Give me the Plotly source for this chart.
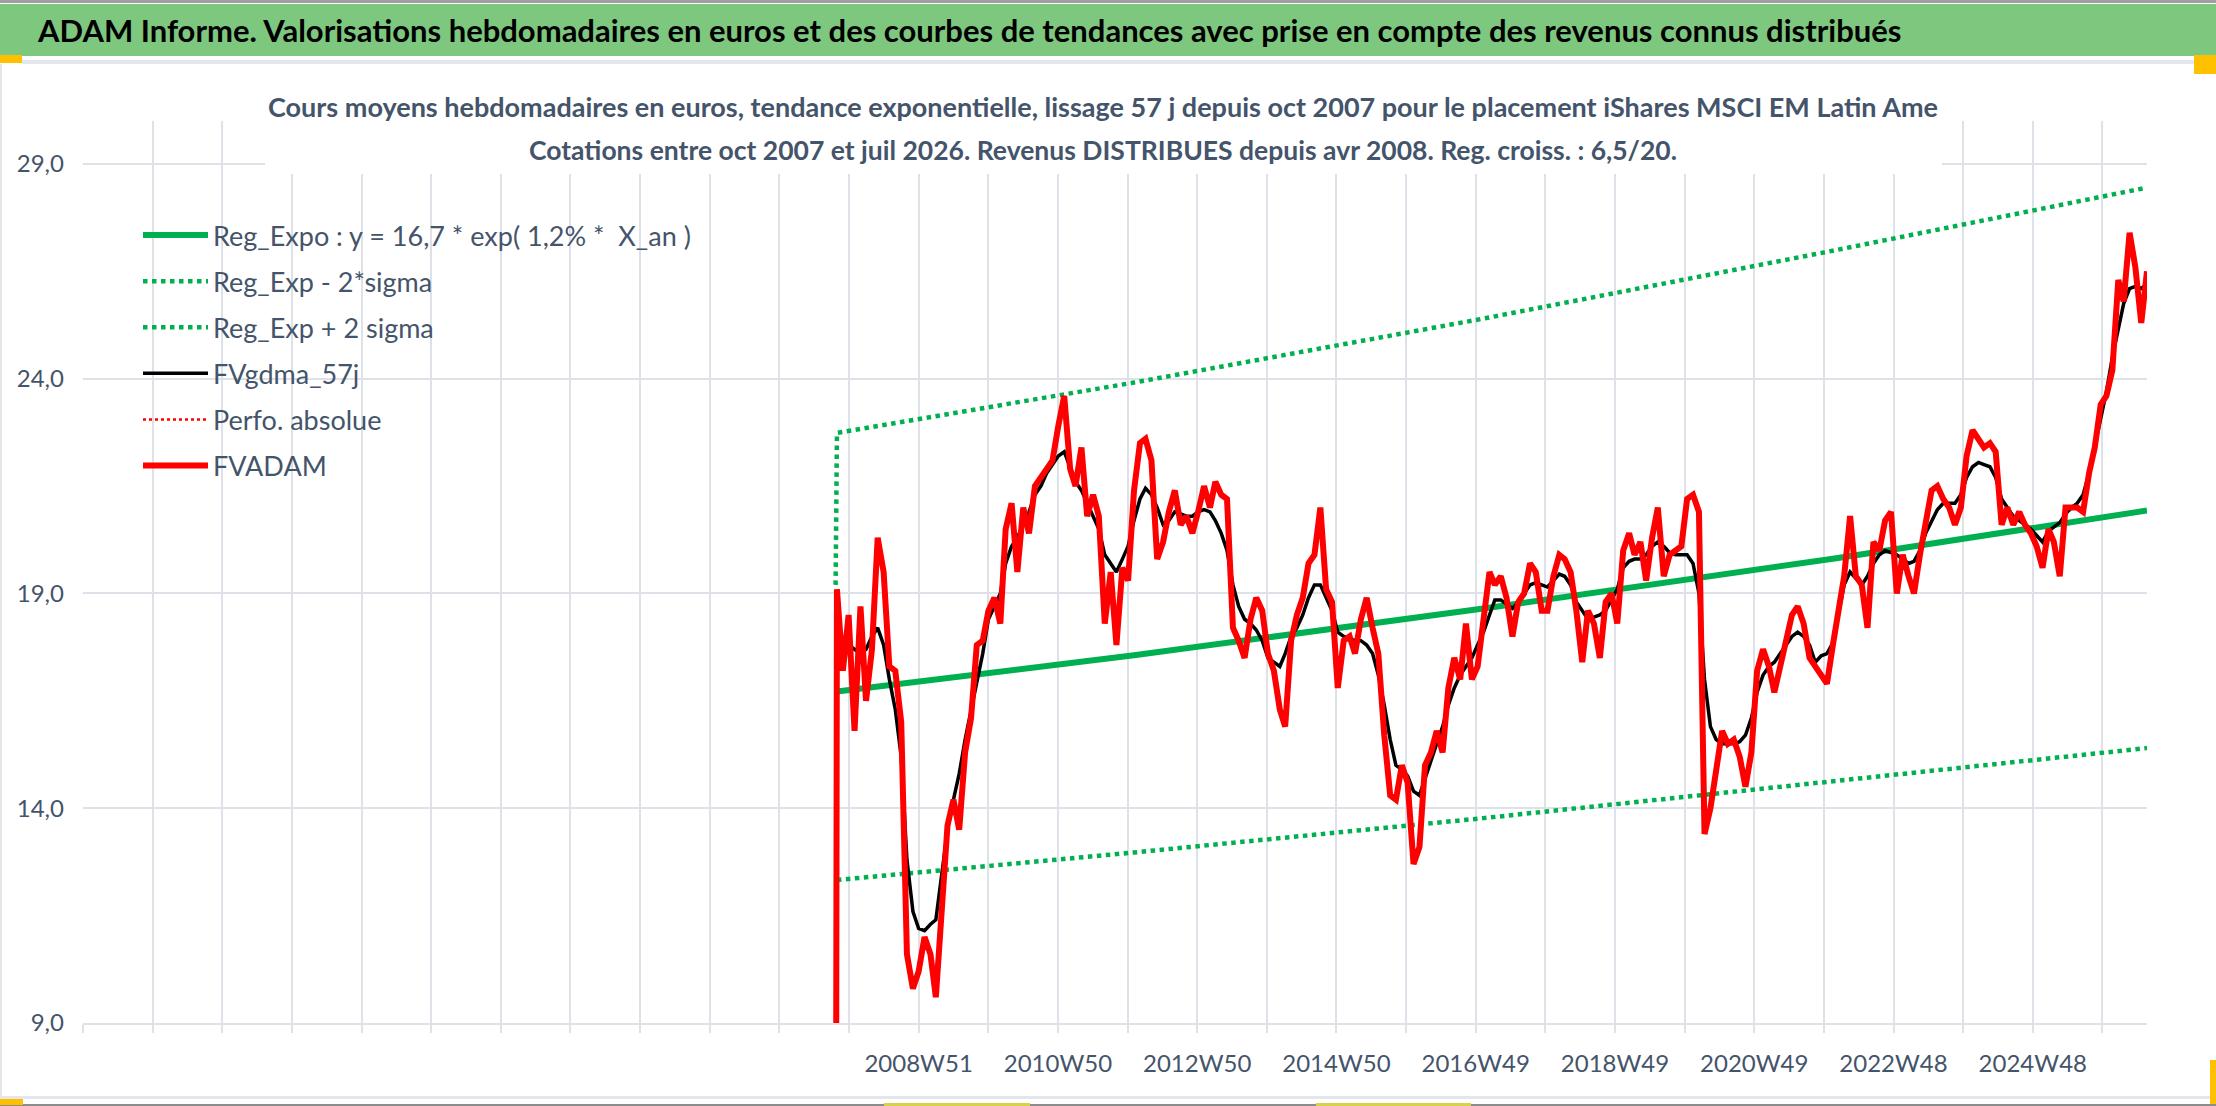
import pandas as pd
import plotly.graph_objects as go

# ---------- valeurs ----------
# un point par mois (milieu de mois), d'oct 2007 a juil 2026
mois = pd.date_range("2007-10-01", "2026-07-01", freq="MS") + pd.Timedelta(days=14)
# premiere cotation : le trait rouge part de l'axe
date_debut = pd.Timestamp("2007-10-08")
fvadam_debut = 0.0

fvadam = [
    19.1, 17.2, 18.5,  # 2007
    15.8, 18.7, 16.5, 17.7, 20.3, 19.5, 17.3, 17.2, 16.0, 10.6, 9.8, 10.2,  # 2008
    11.0, 10.6, 9.6, 11.8, 13.6, 14.2, 13.5, 15.3, 16.1, 17.8, 17.9, 18.6,  # 2009
    18.9, 18.3, 20.5, 21.1, 19.5, 21.0, 20.4, 21.5, 21.7, 21.9, 22.1, 22.9,  # 2010
    23.6, 21.9, 21.5, 22.4, 20.8, 21.3, 20.8, 18.3, 19.5, 17.8, 19.6, 19.3,  # 2011
    21.4, 22.5, 22.6, 22.1, 19.8, 20.2, 20.9, 21.4, 20.6, 20.8, 20.4, 20.9,  # 2012
    21.5, 21.0, 21.6, 21.3, 21.2, 18.2, 17.9, 17.5, 18.4, 18.9, 18.6, 17.6,  # 2013
    17.2, 16.3, 15.9, 17.9, 18.5, 18.9, 19.7, 19.9, 21.0, 19.1, 18.8, 16.8,  # 2014
    17.9, 18.0, 17.6, 18.4, 18.9, 18.2, 17.6, 15.7, 14.3, 14.2, 15.0, 14.6,  # 2015
    12.7, 13.1, 15.0, 15.3, 15.8, 15.3, 16.8, 17.5, 17.0, 18.3, 17.0, 17.3,  # 2016
    18.3, 19.5, 19.2, 19.4, 18.9, 18.0, 18.8, 19.0, 19.7, 19.5, 18.6, 18.6,  # 2017
    19.4, 19.9, 19.8, 19.5, 18.6, 17.4, 18.6, 18.3, 17.5, 18.8, 19.0, 18.3,  # 2018
    20.0, 20.4, 19.9, 20.2, 19.3, 20.3, 21.0, 19.4, 19.9, 20.0, 20.1, 21.2,  # 2019
    21.3, 20.9, 13.4, 14.0, 14.8, 15.8, 15.5, 15.6, 15.2, 14.5, 15.3, 17.2,  # 2020
    17.7, 17.3, 16.7, 17.3, 17.8, 18.5, 18.7, 18.3, 17.5, 17.3, 17.1, 16.9,  # 2021
    17.8, 18.7, 19.4, 20.8, 19.4, 19.2, 18.2, 20.2, 20.0, 20.7, 20.9, 19.0,  # 2022
    19.9, 19.4, 19.0, 19.9, 20.6, 21.4, 21.5, 21.2, 21.0, 20.6, 21.0, 22.2,  # 2023
    22.8, 22.6, 22.4, 22.5, 22.3, 20.6, 21.0, 20.6, 20.9, 20.6, 20.4, 20.1,  # 2024
    19.6, 20.5, 20.2, 19.4, 21.0, 21.0, 21.0, 20.9, 21.8, 22.4, 23.4, 23.6,  # 2025
    24.2, 26.3, 25.8, 27.4, 26.6, 25.3, 26.5,  # 2026
]

fvgdma_57j = [
    18.1, 17.9, 17.8,  # 2007
    17.7, 17.6, 17.7, 18.0, 18.2, 17.8, 17.0, 16.3, 15.2, 12.8, 11.6, 11.2,  # 2008
    11.15, 11.3, 11.4, 12.4, 13.5, 14.2, 14.8, 15.6, 16.3, 17.0, 17.6, 18.4,  # 2009
    18.7, 19.0, 19.7, 20.1, 20.3, 20.6, 20.9, 21.3, 21.5, 21.8, 22.0, 22.2,  # 2010
    22.3, 21.9, 21.6, 21.4, 21.1, 20.8, 20.5, 19.9, 19.7, 19.5, 19.8, 20.1,  # 2011
    20.7, 21.2, 21.45, 21.3, 21.0, 20.6, 20.7, 20.9, 20.85, 20.8, 20.8, 20.9,  # 2012
    20.95, 20.9, 20.7, 20.4, 20.0, 19.2, 18.7, 18.4, 18.3, 18.15, 17.9, 17.5,  # 2013
    17.4, 17.3, 17.6, 18.0, 18.2, 18.5, 18.9, 19.2, 19.2, 18.9, 18.6, 18.1,  # 2014
    18.0, 17.95, 17.9, 17.9, 17.8, 17.6, 17.1, 16.4, 15.6, 15.0, 14.9, 14.75,  # 2015
    14.4, 14.3, 14.7, 15.1, 15.5, 15.9, 16.4, 16.8, 17.1, 17.3, 17.5, 17.8,  # 2016
    18.1, 18.5, 18.85, 18.85, 18.75, 18.65, 18.8, 19.0, 19.2, 19.25, 19.2, 19.15,  # 2017
    19.3, 19.45, 19.4, 19.2, 18.8, 18.6, 18.4, 18.45, 18.5, 18.6, 18.85, 19.1,  # 2018
    19.6, 19.75, 19.8, 19.8, 19.9, 20.1, 20.2, 20.1, 19.95, 19.9, 19.9, 19.9,  # 2019
    19.7, 19.0, 17.0, 15.9, 15.6, 15.5, 15.5, 15.5, 15.55, 15.7, 16.1, 16.7,  # 2020
    17.1, 17.3, 17.4, 17.6, 17.8, 18.0, 18.1, 18.0, 17.8, 17.4, 17.55, 17.6,  # 2021
    17.85, 18.6, 19.2, 19.5, 19.35, 19.2, 19.4, 19.7, 19.9, 20.0, 19.95, 19.9,  # 2022
    19.8, 19.7, 19.75, 20.0, 20.4, 20.7, 20.95, 21.1, 21.1, 21.1, 21.3, 21.7,  # 2023
    21.95, 22.05, 22.0, 21.95, 21.7, 21.2, 21.0, 20.8, 20.7, 20.6, 20.5, 20.35,  # 2024
    20.2, 20.45, 20.55, 20.65, 20.85, 21.0, 21.1, 21.3, 21.8, 22.4, 23.1, 23.7,  # 2025
    24.5, 25.2, 25.75, 26.1, 26.15, 26.1, 26.2,  # 2026
]

# courbes de regression exponentielle et bandes +/- 2 sigma
dates_reg = pd.to_datetime(["2007-10-15", "2012-01-15", "2017-01-15", "2022-01-15", "2026-07-15"])
reg_expo = [16.72, 17.56, 18.65, 19.81, 20.93]
reg_moins_2s = [12.33, 12.97, 13.77, 14.63, 15.40]
reg_plus_2s = [22.74, 23.91, 25.40, 26.98, 28.45]
reg_plus_2s_debut = 19.2

# axe x : une ligne toutes les 52 semaines, etiquette une fois sur deux
semaine_ref = pd.Timestamp("2008-12-15")  # 2008W51
etiquettes_x = ["2008W51", "2010W50", "2012W50", "2014W50", "2016W49",
                "2018W49", "2020W49", "2022W48", "2024W48"]

grille = [semaine_ref + pd.Timedelta(weeks=52 * k) for k in range(-12, 18)]
texte_grille = []
for k in range(-12, 18):
    if k >= 0 and k % 2 == 0 and k // 2 < len(etiquettes_x):
        texte_grille.append(etiquettes_x[k // 2])
    else:
        texte_grille.append("")

# ---------- mise en page (pixels) ----------
W, H = 2216, 1106
L, R, T, B = 83, 69, 121, 83
PW, PH = W - L - R, H - T - B


def px_x(x):
    return (x - L) / PW


def px_y(y):
    return (H - B - y) / PH


VERT = "#00B050"
ROUGE = "#FF0000"
GRIS = "#DEE2E8"
ARDOISE = "#44546A"
POLICE = "Lato, sans-serif"

fig = go.Figure()

fig.add_trace(go.Scatter(x=dates_reg, y=reg_expo, mode="lines",
                         name="Reg_Expo : y = 16,7 * exp( 1,2% *  X_an )",
                         line=dict(color=VERT, width=6), legendgroup="g1"))
fig.add_trace(go.Scatter(x=dates_reg, y=reg_moins_2s, mode="lines",
                         name="Reg_Exp - 2*sigma",
                         line=dict(color=VERT, width=4.5, dash="dot"), legendgroup="g2"))
fig.add_trace(go.Scatter(x=[date_debut] + list(dates_reg), y=[reg_plus_2s_debut] + reg_plus_2s,
                         mode="lines", name="Reg_Exp + 2 sigma",
                         line=dict(color=VERT, width=4.5, dash="dot"), legendgroup="g3"))
fig.add_trace(go.Scatter(x=mois, y=fvgdma_57j, mode="lines", name="FVgdma_57j",
                         line=dict(color="black", width=3.5), legendgroup="g4"))
fig.add_trace(go.Scatter(x=[None], y=[None], mode="lines", name="Perfo. absolue",
                         line=dict(color=ROUGE, width=2.5, dash="dot"), legendgroup="g5"))
fig.add_trace(go.Scatter(x=[date_debut] + list(mois), y=[fvadam_debut] + fvadam,
                         mode="lines", name="FVADAM",
                         line=dict(color=ROUGE, width=6), legendgroup="g6"))

# bandeau du haut, filets et petits reperes
shapes = [
    dict(type="rect", x0=px_x(0), x1=px_x(W), y0=px_y(56), y1=px_y(4),
         fillcolor="#7DC87E", line_width=0),
    dict(type="rect", x0=px_x(0), x1=px_x(W), y0=px_y(3), y1=px_y(0),
         fillcolor="#A0A0A0", line_width=0),
    dict(type="rect", x0=px_x(22), x1=px_x(2195), y0=px_y(64), y1=px_y(60),
         fillcolor="#E3E6EA", line_width=0),
    dict(type="rect", x0=px_x(0), x1=px_x(2), y0=px_y(1097), y1=px_y(64),
         fillcolor="#E3E6EA", line_width=0),
    dict(type="rect", x0=px_x(0), x1=px_x(22), y0=px_y(63), y1=px_y(55),
         fillcolor="#FFC000", line_width=0),
    dict(type="rect", x0=px_x(2194), x1=px_x(W), y0=px_y(74), y1=px_y(55),
         fillcolor="#FFC000", line_width=0),
    dict(type="rect", x0=px_x(0), x1=px_x(W), y0=px_y(1099), y1=px_y(1096),
         fillcolor="#E3E6EA", line_width=0),
    dict(type="rect", x0=px_x(0), x1=px_x(W), y0=px_y(H), y1=px_y(1104),
         fillcolor="#8C8C8C", line_width=0),
    dict(type="rect", x0=px_x(0), x1=px_x(23), y0=px_y(1105), y1=px_y(1099),
         fillcolor="#FFC000", line_width=0),
    dict(type="rect", x0=px_x(2210), x1=px_x(W), y0=px_y(1104), y1=px_y(1060),
         fillcolor="#FFC000", line_width=0),
    dict(type="rect", x0=px_x(884), x1=px_x(1030), y0=px_y(H), y1=px_y(1103),
         fillcolor="#D8D24A", line_width=0),
    dict(type="rect", x0=px_x(1316), x1=px_x(1471), y0=px_y(H), y1=px_y(1103),
         fillcolor="#D8D24A", line_width=0),
    # fond blanc du sous-titre
    dict(type="rect", x0=px_x(265), x1=px_x(1942), y0=px_y(174), y1=px_y(80),
         fillcolor="white", line_width=0, layer="above"),
]
for s in shapes:
    s.update(xref="paper", yref="paper")
    s.setdefault("layer", "below")

annotations = [
    dict(text="<b>ADAM Informe. Valorisations hebdomadaires en euros et des courbes de tendances "
              "avec prise en compte des revenus connus distribués</b>",
         x=px_x(35), y=px_y(30), xanchor="left", yanchor="middle",
         font=dict(size=31, color="black")),
    dict(text="<b>Cours moyens hebdomadaires en euros, tendance exponentielle, lissage 57 j depuis "
              "oct 2007 pour le placement iShares MSCI EM Latin Ame</b>",
         x=px_x(1103), y=px_y(107), xanchor="center", yanchor="middle",
         font=dict(size=27, color=ARDOISE)),
    dict(text="<b>Cotations entre oct 2007 et juil 2026. Revenus DISTRIBUES depuis avr 2008. "
              "Reg. croiss. : 6,5/20.</b>",
         x=px_x(1103), y=px_y(150), xanchor="center", yanchor="middle",
         font=dict(size=26.5, color=ARDOISE)),
]
for a in annotations:
    a.update(xref="paper", yref="paper", showarrow=False)

fig.update_layout(
    width=W, height=H,
    margin=dict(l=L, r=R, t=T, b=B, pad=0),
    paper_bgcolor="white", plot_bgcolor="white",
    separators=", ",
    font=dict(family=POLICE, color=ARDOISE),
    shapes=shapes, annotations=annotations,
    showlegend=True,
    legend=dict(x=px_x(138), y=px_y(211), xanchor="left", yanchor="top",
                font=dict(size=27, color=ARDOISE), bgcolor="rgba(0,0,0,0)",
                itemwidth=65, tracegroupgap=8, traceorder="grouped"),
    hovermode=False,
)

fig.update_xaxes(type="date", range=[grille[0], mois[-1]],
                 tickmode="array", tickvals=grille, ticktext=texte_grille,
                 showgrid=True, gridcolor=GRIS, gridwidth=2,
                 ticks="outside", ticklen=8, tickwidth=2, tickcolor=GRIS,
                 showline=True, linecolor=GRIS, linewidth=2, zeroline=False,
                 tickfont=dict(size=24, color=ARDOISE), ticklabelstandoff=10)
fig.update_yaxes(range=[9, 30], tick0=9, dtick=5, tickformat=".1f",
                 showgrid=True, gridcolor=GRIS, gridwidth=2,
                 showline=False, zeroline=False, ticks="",
                 tickfont=dict(size=24, color=ARDOISE), ticklabelstandoff=18)

fig.write_html("out.html", config={"displayModeBar": False},
               post_script="document.body.style.margin='0';")
